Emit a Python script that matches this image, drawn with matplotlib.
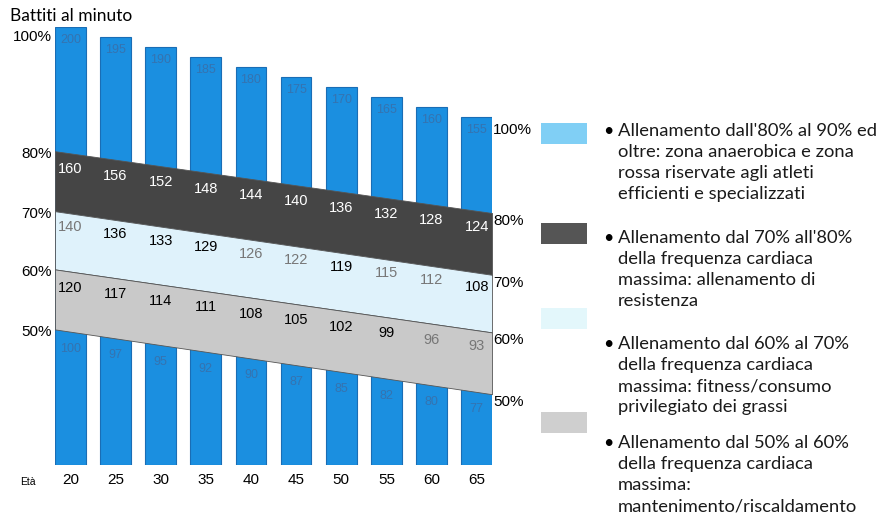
import numpy as np
import matplotlib.pyplot as plt

# valori
ages = [20, 25, 30, 35, 40, 45, 50, 55, 60, 65]
max_hr = [200, 195, 190, 185, 180, 175, 170, 165, 160, 155]
hr80 = [160, 156, 152, 148, 144, 140, 136, 132, 128, 124]
hr70 = [140, 136, 133, 129, 126, 122, 119, 115, 112, 108]
hr60 = [120, 117, 114, 111, 108, 105, 102, 99, 96, 93]
hr50 = [100, 97, 95, 92, 90, 87, 85, 82, 80, 77]
zone_labels = ['80%', '70%', '60%', '50%']
# bordi delle fasce (scala percentuale dello schema) a 20 e a 65 anni
edge_left = [80.0, 70.0, 60.3, 50.3]
edge_right = [69.7, 59.4, 49.8, 39.5]

legend_texts = [
    ["Allenamento dall'80% al 90% ed", "oltre: zona anaerobica e zona",
     "rossa riservate agli atleti", "efficienti e specializzati"],
    ["Allenamento dal 70% all'80%", "della frequenza cardiaca",
     "massima: allenamento di", "resistenza"],
    ["Allenamento dal 60% al 70%", "della frequenza cardiaca",
     "massima: fitness/consumo", "privilegiato dei grassi"],
    ["Allenamento dal 50% al 60%", "della frequenza cardiaca",
     "massima:", "mantenimento/riscaldamento"],
]

bar_blue = '#1b8fe0'
band_colors = ['#454545', '#dff2fb', '#c9c9c9']
swatch_colors = ['#80cff5', '#555555', '#e3f7fb', '#cfcfcf']
num_font = 'Liberation Sans'
txt_font = 'Lato'

W, H = 881, 516
fig = plt.figure(figsize=(W / 100, H / 100), dpi=100)
ax = fig.add_axes([55 / W, (H - 465) / H, 437 / W, 438 / H])
ax2 = ax.twinx()

width = 3.4
base = -19
ax.bar(ages, np.array(max_hr) - base, bottom=base, width=width,
       color=bar_blue, edgecolor='#1a6db5', linewidth=0.8)
ax.set_xlim(ages[0] - width / 2, ages[-1] + width / 2)
ax.set_ylim(base, 200)
ax2.set_ylim(27.7, 100.7)

xl, xr = ages[0] - width / 2, ages[-1] + width / 2
for i in range(3):
    ax2.fill_between([xl, xr], [edge_left[i], edge_right[i]],
                     [edge_left[i + 1], edge_right[i + 1]],
                     facecolor=band_colors[i], edgecolor='#555555', linewidth=0.6)


def edge_at(i, x):
    return np.interp(x, [xl, xr], [edge_left[i], edge_right[i]])


gray_txt = '#777777'
colors70 = [gray_txt, 'k', 'k', 'k', gray_txt, gray_txt, 'k', gray_txt, gray_txt, 'k']
colors60 = ['k'] * 8 + [gray_txt, gray_txt]
for j, a in enumerate(ages):
    ax.annotate(str(max_hr[j]), (a, max_hr[j]), xytext=(0, -13), textcoords='offset pixels',
                ha='center', va='center', fontsize=9, color='#3573b0', family=num_font)
    ax2.annotate(str(hr80[j]), (a, edge_at(0, a)), xytext=(0, -16), textcoords='offset pixels',
                 ha='center', va='center', fontsize=10.5, color='white', family=num_font)
    ax2.annotate(str(hr70[j]), (a, edge_at(1, a)), xytext=(0, -14), textcoords='offset pixels',
                 ha='center', va='center', fontsize=10.5, color=colors70[j], family=num_font)
    ax2.annotate(str(hr60[j]), (a, edge_at(2, a)), xytext=(0, -16), textcoords='offset pixels',
                 ha='center', va='center', fontsize=10.5, color=colors60[j], family=num_font)
    ax2.annotate(str(hr50[j]), (a, edge_at(3, a)), xytext=(0, -17), textcoords='offset pixels',
                 ha='center', va='center', fontsize=9, color='#3573b0', family=num_font)

# etichette percentuali a sinistra e a destra
ax.annotate('100%', (xl, max_hr[0]), xytext=(-3, -10), textcoords='offset pixels',
            ha='right', va='center', fontsize=11, family=num_font)
ax.annotate('100%', (xr, max_hr[-1]), xytext=(1, -13), textcoords='offset pixels',
            ha='left', va='center', fontsize=11, family=num_font)
for i, lab in enumerate(zone_labels):
    ax2.annotate(lab, (xl, edge_left[i]), xytext=(-3, -3), textcoords='offset pixels',
                 ha='right', va='center', fontsize=11, family=num_font)
    ax2.annotate(lab, (xr, edge_right[i]), xytext=(1, -8), textcoords='offset pixels',
                 ha='left', va='center', fontsize=11, family=num_font)

ax.set_xticks(ages)
ax.set_xticklabels([str(a) for a in ages], fontsize=11, family=num_font)
ax.tick_params(axis='x', length=0, pad=6)
ax.set_yticks([])
ax2.set_yticks([])
for a_ in (ax, ax2):
    for s in a_.spines.values():
        s.set_visible(False)

fig.text(10 / W, 1 - 16 / H, 'Battiti al minuto', fontsize=12.5, family=txt_font, va='center')
fig.text(20 / W, 1 - 482 / H, 'Età', fontsize=7.5, family=num_font, va='center')

# legenda
swatch_y = [123, 223, 308, 412]
first_line_y = [131, 238, 344, 443]
for k in range(4):
    fig.patches.append(plt.Rectangle((541 / W, 1 - (swatch_y[k] + 21) / H), 46 / W, 21 / H,
                                     transform=fig.transFigure, facecolor=swatch_colors[k],
                                     edgecolor='none'))
    fig.text(603 / W, 1 - first_line_y[k] / H, '•', fontsize=13, family=txt_font, va='center')
    for n, line in enumerate(legend_texts[k]):
        fig.text(618 / W, 1 - (first_line_y[k] + 21 * n) / H, line, fontsize=13.2,
                 family=txt_font, va='center', color='#1a1a1a')

fig.savefig('out.png', dpi=100)
